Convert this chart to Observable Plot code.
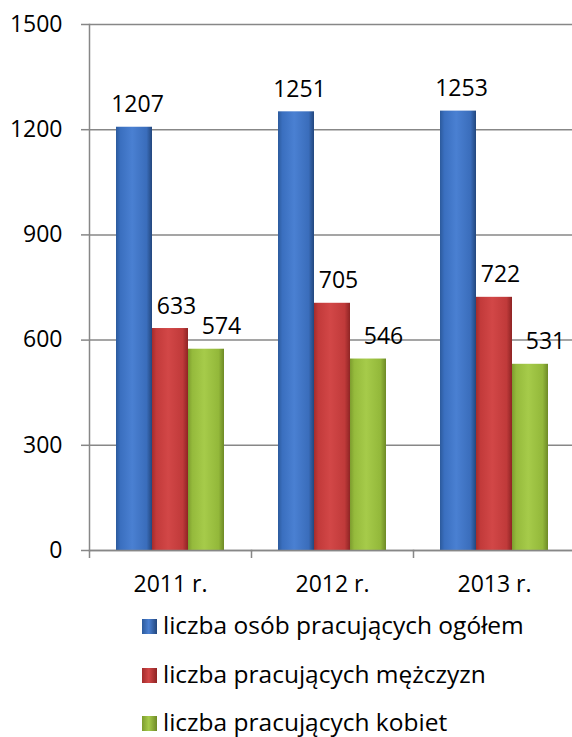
<!DOCTYPE html>
<html>
<head>
<meta charset="utf-8">
<script src="https://cdn.jsdelivr.net/npm/d3@7"></script>
<script src="https://cdn.jsdelivr.net/npm/@observablehq/plot@0.6"></script>
<style>
  html, body { margin: 0; padding: 0; background: #fff; }
  body { width: 572px; font-family: "Open Sans", sans-serif; }
  #legend { padding-top: 1px; padding-left: 142px; font-size: 24.5px; color: #000; }
  .row { height: 48.5px; line-height: 48.5px; white-space: nowrap; }
  .sw { display: inline-block; width: 15px; height: 15px; margin-right: 6px; vertical-align: baseline; box-sizing: border-box; }
</style>
</head>
<body>
<svg width="0" height="0" style="position:absolute">
  <defs>
    <linearGradient id="gBlue" x1="0" x2="1" y1="0" y2="0">
      <stop offset="0" stop-color="#2c5a9c"/>
      <stop offset="0.12" stop-color="#3a6fbf"/>
      <stop offset="0.45" stop-color="#4a80d2"/>
      <stop offset="0.85" stop-color="#3a6dbb"/>
      <stop offset="1" stop-color="#23477d"/>
    </linearGradient>
    <linearGradient id="gRed" x1="0" x2="1" y1="0" y2="0">
      <stop offset="0" stop-color="#a32c2c"/>
      <stop offset="0.12" stop-color="#c23a3a"/>
      <stop offset="0.45" stop-color="#d24747"/>
      <stop offset="0.85" stop-color="#c03a3a"/>
      <stop offset="1" stop-color="#8e2424"/>
    </linearGradient>
    <linearGradient id="gGreen" x1="0" x2="1" y1="0" y2="0">
      <stop offset="0" stop-color="#7d9c2e"/>
      <stop offset="0.12" stop-color="#95ba3c"/>
      <stop offset="0.45" stop-color="#a6cb4a"/>
      <stop offset="0.85" stop-color="#93b83a"/>
      <stop offset="1" stop-color="#6e8a26"/>
    </linearGradient>
  </defs>
</svg>
<div id="chart"></div>
<div id="legend"></div>
<script>
const years = ["2011 r.", "2012 r.", "2013 r."];
const series = ["liczba osób pracujących ogółem", "liczba pracujących mężczyzn", "liczba pracujących kobiet"];
const ogolem = [1207, 1251, 1253];
const mezczyzni = [633, 705, 722];
const kobiety = [574, 546, 531];
const yTicks = [0, 300, 600, 900, 1200, 1500];

const fills = ["url(#gBlue)", "url(#gRed)", "url(#gGreen)"];
const swatchCss = [
  "linear-gradient(90deg,#2c5a9c,#4a80d2 45%,#23477d)",
  "linear-gradient(90deg,#a32c2c,#d24747 45%,#8e2424)",
  "linear-gradient(90deg,#7d9c2e,#a6cb4a 45%,#6e8a26)"
];

const valuesBySeries = [ogolem, mezczyzni, kobiety];
const data = years.flatMap((year, i) =>
  series.map((s, j) => ({year, series: s, value: valuesBySeries[j][i]}))
);

const W = 572, ML = 89, MR = -3;
const bw = (W - ML - MR) / years.length;
const grey = "#878787";
const labelDx = [3, 6, 15];
const FS = 23;

const chart = Plot.plot({
  width: W,
  height: 600,
  marginLeft: ML,
  marginRight: MR,
  marginTop: 24,
  marginBottom: 50,
  style: {fontFamily: "Open Sans", fontSize: FS + "px", color: "#000", background: "transparent", overflow: "visible"},
  fx: {domain: years, padding: 0, axis: null, label: null},
  x: {domain: series, paddingInner: 0, paddingOuter: 0.705, axis: null},
  y: {domain: [0, 1500], axis: null},
  color: {domain: series, range: fills},
  marks: [
    Plot.gridY({ticks: yTicks, stroke: grey, strokeOpacity: 1, strokeWidth: 1.5}),
    Plot.axisY({ticks: yTicks, tickFormat: d => String(d), tickSize: 8, tickPadding: 19, stroke: grey, strokeWidth: 1.5, fill: "#000", fontSize: FS, label: null}),
    Plot.frame({anchor: "left", facetAnchor: "left", stroke: grey, strokeWidth: 1.5}),
    Plot.barY(data, {fx: "year", x: "series", y: "value", fill: "series"}),
    Plot.frame({anchor: "bottom", stroke: grey, strokeWidth: 1.5}),
    Plot.axisFx({anchor: "bottom", tickSize: 8, tickFormat: () => "", dx: -bw / 2, stroke: grey, strokeWidth: 1.5, label: null}),
    Plot.axisFx({anchor: "bottom", tickSize: 0, tickPadding: 25, fill: "#000", fontSize: FS, label: null}),
    ...series.map((s, j) =>
      Plot.text(data.filter(d => d.series === s), {
        fx: "year", x: "series", y: "value", text: d => String(d.value),
        lineAnchor: "bottom", dy: -15, dx: labelDx[j], fontSize: FS, fill: "#000"
      })
    )
  ]
});
document.getElementById("chart").append(chart);

const legend = d3.select("#legend");
series.forEach((s, j) => {
  const row = legend.append("div").attr("class", "row");
  row.append("span").attr("class", "sw").style("background", swatchCss[j]);
  row.append("span").text(s);
});
</script>
</body>
</html>
